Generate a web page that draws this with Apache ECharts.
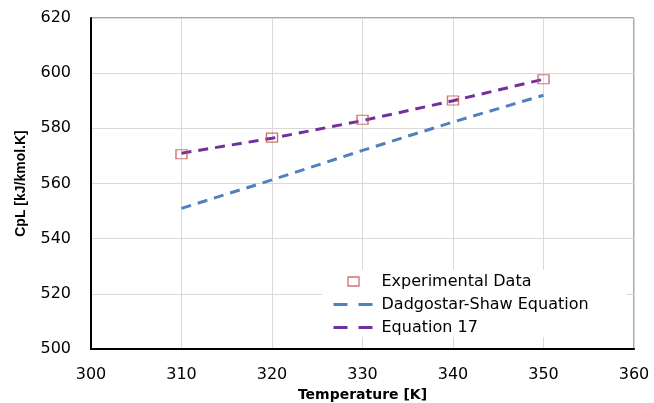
<!DOCTYPE html>
<html><head><meta charset="utf-8">
<script src="https://cdn.jsdelivr.net/npm/echarts@6/dist/echarts.min.js"></script>
<style>html,body{margin:0;padding:0;background:#fff}#c{width:654px;height:403px}</style>
</head><body><div id="c"></div>
<script>
var temperatures = [310, 320, 330, 340, 350];
var experimental = [570.6, 576.6, 583.1, 590.1, 597.8];
var dadgostarShaw = [551.0, 561.3, 572.0, 582.3, 592.0];
var equation17 = [571.0, 576.4, 582.8, 590.0, 597.8];
var xTicks = {min: 300, max: 360, interval: 10};
var yTicks = {min: 500, max: 620, interval: 20};

function pairs(xs, ys) { return xs.map(function (x, i) { return [x, ys[i]]; }); }

var font = 'DejaVu Sans';
var chart = echarts.init(document.getElementById('c'), null, {renderer: 'canvas'});
chart.setOption({
  animation: false,
  backgroundColor: '#fff',
  grid: {left: 91, right: 20, top: 18, bottom: 54, show: true, borderColor: '#505050', borderWidth: 1,
         containLabel: false, outerBoundsMode: 'none'},
  xAxis: {
    type: 'value', min: xTicks.min, max: xTicks.max, interval: xTicks.interval,
    name: 'Temperature [K]', nameLocation: 'middle', nameGap: 39,
    nameTextStyle: {fontFamily: font, fontWeight: 'bold', fontSize: 14, color: '#000'},
    axisLine: {show: true, onZero: false, lineStyle: {color: '#000', width: 2}},
    axisTick: {show: false},
    axisLabel: {fontFamily: font, fontSize: 16, color: '#000', margin: 18},
    splitLine: {show: true, lineStyle: {color: '#d9d9d9', width: 1}}
  },
  yAxis: {
    type: 'value', min: yTicks.min, max: yTicks.max, interval: yTicks.interval,
    name: 'CpL [kJ/kmol.K]', nameLocation: 'middle', nameGap: 63, nameRotate: 90,
    nameTextStyle: {fontFamily: 'Liberation Sans', fontWeight: 'bold', fontSize: 14, color: '#000'},
    axisLine: {show: true, onZero: false, lineStyle: {color: '#000', width: 2}},
    axisTick: {show: false},
    axisLabel: {fontFamily: font, fontSize: 16, color: '#000', margin: 20},
    splitLine: {show: true, lineStyle: {color: '#d9d9d9', width: 1}}
  },
  legend: {
    orient: 'vertical', left: 322, top: 270,
    padding: [3, 38, 1, 10], itemGap: 6, itemWidth: 40, itemHeight: 9,
    backgroundColor: '#fff', symbolKeepAspect: true,
    textStyle: {fontFamily: font, fontSize: 16, lineHeight: 17, color: '#000', padding: [0, 0, 0, 3]},
    data: [
      {name: 'Experimental Data', icon: 'path://M0,0H11V9H0Z', itemStyle: {color: '#fff', borderColor: '#c0504d', borderWidth: 1.3}},
      {name: 'Dadgostar-Shaw Equation', itemStyle: {opacity: 0}, lineStyle: {type: [14, 11], width: 3}},
      {name: 'Equation 17', itemStyle: {opacity: 0}, lineStyle: {type: [14, 11], width: 3}}
    ]
  },
  series: [
    {
      name: 'Dadgostar-Shaw Equation', type: 'line', data: pairs(temperatures, dadgostarShaw),
      symbol: 'none', smooth: false, z: 2,
      lineStyle: {color: '#4f81bd', width: 3, type: [10, 7]},
      itemStyle: {color: '#4f81bd'}
    },
    {
      name: 'Equation 17', type: 'line', data: pairs(temperatures, equation17),
      symbol: 'none', smooth: false, z: 3,
      lineStyle: {color: '#7030a0', width: 3, type: [10, 7]},
      itemStyle: {color: '#7030a0'}
    },
    {
      name: 'Experimental Data', type: 'scatter', data: pairs(temperatures, experimental),
      symbol: 'rect', symbolSize: [11, 9], z: 4,
      itemStyle: {color: 'rgba(255,255,255,0)', borderColor: '#c0504d', borderWidth: 1.3}
    }
  ]
});
</script></body></html>
